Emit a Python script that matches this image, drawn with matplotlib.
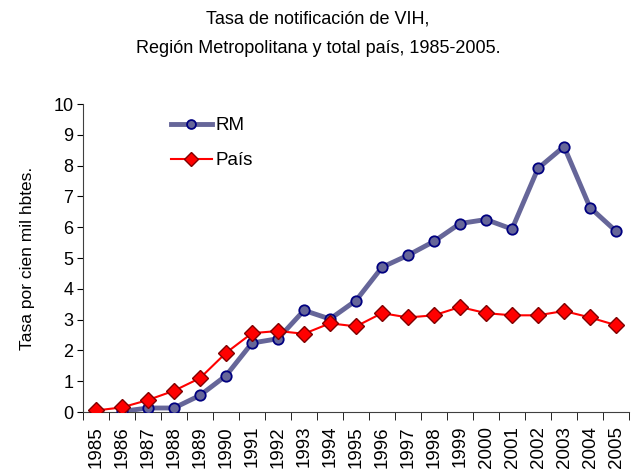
import numpy as np
import matplotlib.pyplot as plt

years = [str(y) for y in range(1985, 2006)]
rm = [np.nan, 0.02, 0.13, 0.13, 0.54, 1.18, 2.24, 2.38, 3.30, 3.02, 3.62,
      4.70, 5.09, 5.54, 6.12, 6.25, 5.94, 7.91, 8.62, 6.64, 5.87]
pais = [0.05, 0.15, 0.39, 0.69, 1.10, 1.92, 2.56, 2.63, 2.54, 2.88, 2.78,
        3.21, 3.07, 3.14, 3.41, 3.21, 3.14, 3.14, 3.28, 3.07, 2.82]

plt.rcParams['font.family'] = ['Liberation Sans', 'DejaVu Sans']

fig = plt.figure(figsize=(6.32, 4.75), dpi=100)
ax = fig.add_axes([0.1313, 0.1326, 0.864, 0.6484])

x = np.arange(len(years))
ax.plot(x, rm, color='#666699', lw=3.5, marker='o', ms=7.5,
        mfc='#666699', mec='#000080', mew=1.3, label='RM', zorder=3)
ax.plot(x, pais, color='#FF0000', lw=1.5, marker='D', ms=8.5,
        mfc='#FF0000', mec='#800000', mew=1.0, label='País', zorder=4)

ax.set_xlim(-0.5, len(years) - 0.5)
ax.set_ylim(0, 10)
ax.set_yticks(range(0, 11))
ax.tick_params(axis='y', labelsize=13, length=4, direction='out', pad=3)

# category axis: ticks between categories, labels at centers
ax.set_xticks(x)
ax.set_xticklabels(years, rotation=90, fontsize=13.5)
ax.set_xticks(np.arange(-0.5, len(years)), minor=True)
ax.tick_params(axis='x', which='major', length=0, pad=10)
ax.tick_params(axis='x', which='minor', length=6, direction='out')

for s in ['top', 'right']:
    ax.spines[s].set_visible(False)
for s in ['left', 'bottom']:
    ax.spines[s].set_color('#404040')

ax.set_ylabel('Tasa por cien mil hbtes.', fontsize=12.5, labelpad=13)

leg = ax.legend(loc='upper left', bbox_to_anchor=(0.13, 1.012), frameon=False,
                fontsize=13.5, handlelength=2.2, markerscale=0.85,
                labelspacing=0.95, handletextpad=0.2)

fig.text(0.503, 0.96, 'Tasa de notificación de VIH,', ha='center',
         va='center', fontsize=13)
fig.text(0.503, 0.897, 'Región Metropolitana y total país, 1985-2005.',
         ha='center', va='center', fontsize=13)

fig.savefig('out.png', dpi=100)
